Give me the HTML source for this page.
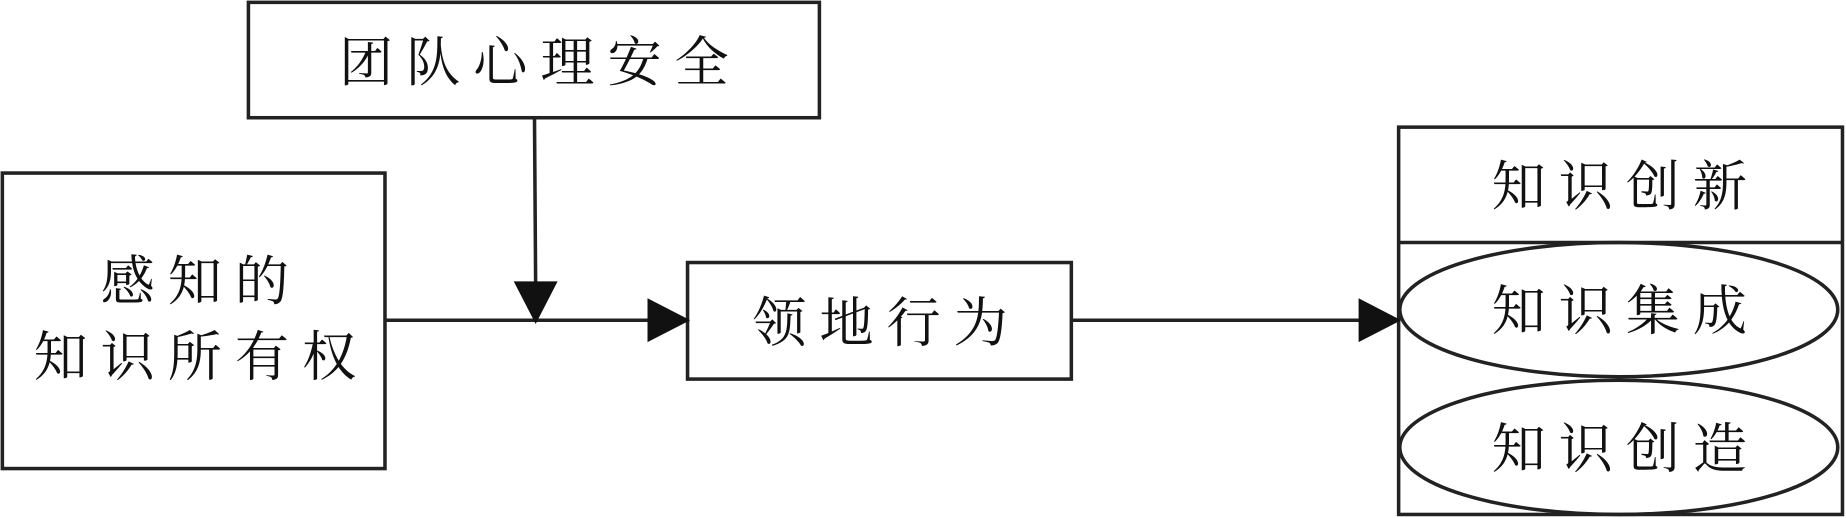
<!DOCTYPE html>
<html><head><meta charset="utf-8"><style>
html,body{margin:0;padding:0;background:#fff;}
svg{display:block;}
text{font-family:"Liberation Serif","Noto Serif CJK SC",serif;font-size:46px;fill:#111;text-anchor:middle;letter-spacing:11px;}
</style></head><body>
<svg width="1846" height="518" viewBox="0 0 1568 440" preserveAspectRatio="none" xmlns="http://www.w3.org/2000/svg">
<g fill="none" stroke="#222" stroke-width="3">
<rect x="211" y="2" width="485" height="98"/>
<rect x="2" y="147" width="325" height="251"/>
<rect x="584" y="223" width="326" height="99"/>
<rect x="1188" y="108" width="377" height="329"/>
<line x1="1188" y1="206" x2="1565" y2="206"/>
<ellipse cx="1375" cy="263" rx="186" ry="57"/>
<ellipse cx="1375" cy="380" rx="186" ry="57"/>
<line x1="327" y1="272" x2="556" y2="272"/>
<line x1="454" y1="100" x2="455" y2="245"/>
<line x1="910" y1="272" x2="1160" y2="272"/>
</g>
<g fill="#111" stroke="#111" stroke-width="2">
<polygon points="584,272 551,255 551,289"/>
<polygon points="455,273 438,240 472,240"/>
<polygon points="1188,272 1155,255 1155,289"/>
</g>
<text x="459" y="69">团队心理安全</text>
<text x="171" y="255">感知的</text>
<text x="171" y="319">知识所有权</text>
<text x="753" y="290">领地行为</text>
<text x="1381" y="174">知识创新</text>
<text x="1381" y="280">知识集成</text>
<text x="1381" y="397">知识创造</text>
</svg>
</body></html>
